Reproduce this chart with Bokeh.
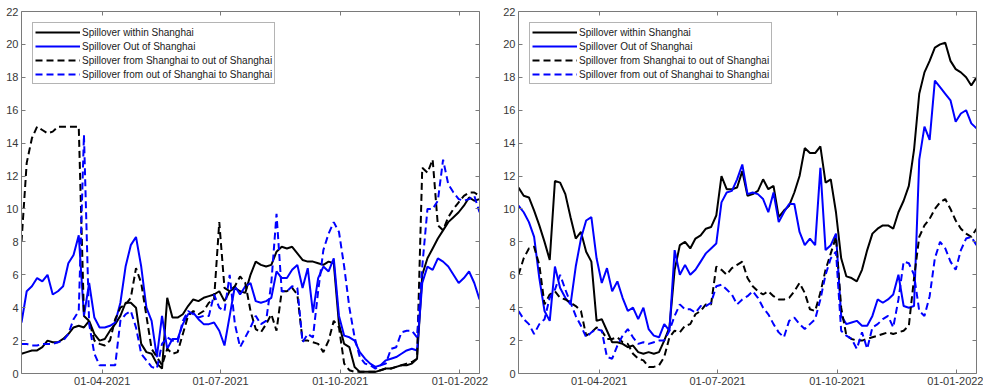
import pandas as pd
from bokeh.plotting import figure
from bokeh.layouts import row
from bokeh.models import (Range1d, FixedTicker, DatetimeTickFormatter, DatetimeAxis,
                          LinearAxis, Legend, LegendItem)
from bokeh.embed import file_html
from bokeh.resources import INLINE

# ---------------- data ----------------
# one reading every 4 days, 29-01-2021 .. 16-01-2022
dates = pd.date_range("2021-01-29", periods=89, freq="4D")
x_tick_dates = ["2021-04-01", "2021-07-01", "2021-10-01", "2022-01-01"]
y_ticks = [0, 2, 4, 6, 8, 10, 12, 14, 16, 18, 20, 22]
series_labels = ["Spillover within Shanghai",
                 "Spillover Out of Shanghai",
                 "Spillover from Shanghai to out of Shanghai",
                 "Spillover from out of Shanghai to Shanghai"]

# left panel
left_within = [1.2, 1.3, 1.4, 1.4, 1.6, 2.0, 1.9, 1.9, 2.1, 2.4,
               2.8, 2.9, 2.8, 3.2, 2.4, 2.0, 2.1, 2.6, 3.0, 3.5,
               4.3, 4.3, 4.0, 1.8, 1.3, 1.2, 0.6, 0.3, 4.6, 3.4,
               3.4, 3.6, 4.1, 4.5, 4.4, 4.6, 4.7, 4.8, 5.0, 4.4,
               5.0, 5.2, 5.0, 4.9, 6.0, 6.8, 6.6, 6.5, 6.6, 7.4,
               7.7, 7.6, 7.7, 7.3, 6.9, 6.8, 6.8, 6.7, 6.6, 6.8,
               6.7, 3.0, 1.8, 1.6, 0.4, 0.1, 0.1, 0.1, 0.1, 0.2,
               0.3, 0.3, 0.4, 0.5, 0.5, 0.6, 0.9, 6.0, 7.0, 7.6,
               8.2, 8.7, 9.2, 9.5, 9.8, 10.2, 10.7, 10.5, 10.6]
left_out = [3.1, 5.0, 5.3, 5.8, 5.6, 6.0, 4.8, 5.0, 5.3, 6.7,
            7.2, 8.4, 3.5, 5.5, 3.4, 2.8, 2.8, 2.9, 3.1, 4.3,
            6.5, 7.8, 8.3, 6.5, 4.0, 3.2, 1.0, 3.5, 1.5, 2.1,
            2.1, 3.0, 3.6, 3.7, 3.3, 3.0, 3.0, 3.1, 2.6, 1.7,
            3.5, 5.3, 4.8, 5.3, 5.5, 4.4, 4.3, 4.4, 4.6, 6.2,
            5.8, 5.8, 6.3, 6.6, 5.2, 6.4, 3.7, 5.8, 6.5, 6.2,
            7.0, 3.5, 2.3, 2.2, 2.0, 1.3, 0.9, 0.6, 0.4, 0.5,
            0.8, 0.9, 1.0, 1.2, 1.4, 1.5, 1.4, 5.5, 6.5, 6.3,
            7.0, 6.8, 6.5, 6.0, 5.5, 5.8, 6.2, 5.5, 4.5]
left_from = [8.0, 12.8, 14.3, 15.0, 14.8, 14.6, 14.7, 15.0, 15.0, 15.0,
             15.0, 15.0, 3.5, 3.2, 2.0, 1.8, 1.7, 2.0, 3.3, 4.0,
             4.2, 4.6, 6.4, 5.5, 3.5, 1.5, 1.0, 0.5, 1.5, 1.2,
             1.3, 2.4, 3.5, 3.8, 3.6, 3.8, 4.3, 4.5, 9.2, 5.2,
             5.0, 5.3, 5.9, 5.5, 3.8, 2.7, 2.5, 3.0, 3.6, 2.6,
             5.0, 5.0, 5.2, 4.8, 2.0, 2.0, 1.9, 1.8, 1.3, 2.0,
             3.2, 2.8, 0.6, 0.2, 0.1, 0.1, 0.1, 0.1, 0.1, 0.2,
             0.3, 0.3, 0.4, 0.5, 0.6, 0.7, 0.9, 12.5, 12.2, 13.0,
             9.0, 8.7, 9.5, 10.0, 10.4, 10.8, 11.0, 11.0, 10.8]
left_to = [1.8, 1.8, 1.7, 1.7, 1.8, 1.8, 1.8, 1.9, 2.0, 2.4,
           3.3, 3.8, 14.5, 3.0, 1.2, 0.5, 0.5, 0.5, 0.5, 3.2,
           3.6, 3.8, 2.8, 1.2, 0.8, 0.4, 0.3, 1.8, 2.2, 2.0,
           1.9, 3.2, 3.8, 3.6, 3.4, 3.5, 3.5, 4.8, 4.0, 3.8,
           6.0, 3.0, 1.6, 2.2, 2.8, 3.5, 3.0, 3.2, 5.5, 9.7,
           5.0, 5.0, 5.3, 5.2, 1.9, 2.4, 2.2, 5.0, 7.5, 8.5,
           9.2, 8.6, 6.5, 4.0, 2.2, 1.0, 0.6, 0.5, 0.3, 0.5,
           0.6, 1.5, 1.6, 2.5, 2.6, 2.6, 2.2, 6.5, 10.0, 10.0,
           10.5, 13.0, 11.5, 11.0, 10.6, 10.5, 10.6, 10.8, 9.8]

# right panel
right_within = [11.3, 10.8, 10.7, 9.9, 9.0, 8.0, 6.9, 11.7, 11.6, 10.9,
                9.5, 8.2, 8.6, 7.4, 6.8, 3.2, 3.3, 2.6, 1.9, 1.9,
                1.8, 1.6, 1.7, 1.3, 1.2, 1.3, 1.2, 1.3, 2.0, 2.8,
                6.3, 7.8, 8.0, 7.6, 8.2, 8.4, 8.8, 8.9, 9.6, 12.0,
                11.2, 11.2, 11.3, 12.3, 10.8, 10.9, 11.1, 11.8, 11.2, 11.4,
                9.5, 9.9, 10.2, 11.0, 12.0, 13.7, 13.4, 13.4, 13.8, 11.6,
                11.8, 9.8, 7.0, 5.9, 5.8, 5.6, 6.3, 7.5, 8.5, 8.8,
                9.0, 9.0, 8.8, 9.8, 10.5, 11.4, 13.6, 17.0, 18.3, 19.0,
                19.8, 20.0, 20.1, 19.0, 18.5, 18.3, 18.0, 17.5, 18.0]
right_out = [10.2, 9.8, 9.2, 8.3, 5.8, 3.8, 3.2, 6.5, 5.2, 4.6,
             4.2, 6.5, 8.2, 9.3, 9.5, 7.0, 5.5, 6.4, 5.0, 5.6,
             4.6, 3.8, 4.0, 3.3, 4.0, 2.7, 2.3, 2.2, 3.0, 2.6,
             7.5, 6.0, 6.6, 6.0, 6.3, 6.8, 7.3, 7.6, 7.9, 10.4,
             11.0, 11.1, 11.8, 12.7, 10.9, 11.0, 10.9, 10.6, 9.8, 11.0,
             9.2, 9.8, 10.3, 10.3, 8.6, 7.8, 8.2, 7.8, 12.5, 7.5,
             7.8, 8.5, 3.5, 3.0, 3.1, 3.2, 2.9, 2.9, 3.5, 4.5,
             4.3, 4.5, 4.8, 6.0, 4.1, 4.0, 4.1, 13.0, 15.0, 14.2,
             17.8, 17.4, 17.0, 16.6, 15.3, 15.8, 16.0, 15.2, 14.9]
right_from = [6.0, 7.0, 7.6, 7.7, 6.6, 4.2, 4.8, 5.0, 4.6, 4.5,
              4.3, 4.1, 3.8, 2.3, 2.5, 2.8, 2.6, 2.1, 2.1, 2.2,
              1.9, 1.8, 1.2, 0.9, 0.8, 0.4, 0.4, 0.5, 1.0, 2.2,
              2.6, 2.5, 2.9, 3.0, 3.6, 3.8, 4.2, 4.2, 6.5, 6.3,
              6.0, 6.4, 6.6, 6.8, 5.8, 5.3, 5.0, 4.8, 5.0, 4.7,
              4.5, 4.5, 4.6, 5.0, 5.5, 4.9, 3.9, 3.8, 4.9, 6.3,
              7.3, 8.3, 4.0, 2.3, 2.1, 2.0, 2.0, 2.1, 2.2, 2.3,
              2.4, 2.5, 2.4, 2.5, 2.6, 2.9, 5.8, 8.3, 9.0, 9.4,
              10.0, 10.4, 10.6, 10.0, 9.3, 8.8, 8.5, 8.3, 8.8]
right_to = [3.8, 3.3, 3.0, 2.4, 3.0, 3.3, 4.6, 5.1, 6.0, 5.1,
            4.3, 3.5, 2.9, 2.2, 2.5, 2.7, 2.6, 1.0, 0.9, 1.7,
            2.3, 2.7, 2.2, 1.8, 1.9, 1.8, 1.9, 2.0, 2.0, 2.6,
            3.5, 4.2, 3.9, 3.9, 3.7, 4.1, 4.1, 4.3, 5.3, 5.4,
            5.1, 4.8, 4.2, 4.5, 4.7, 5.0, 4.6, 4.0, 3.6, 3.0,
            2.5, 2.2, 3.2, 3.4, 3.0, 2.7, 3.0, 3.3, 4.5, 6.0,
            7.0, 7.4, 2.6, 2.3, 2.1, 1.5, 2.5, 1.5, 2.8, 3.0,
            3.3, 3.5, 2.8, 4.5, 6.8, 6.7, 6.0, 3.8, 3.5, 4.7,
            7.0, 8.0, 7.6, 6.8, 6.3, 7.5, 8.2, 8.3, 7.8]

# ---------------- styling ----------------
FONT = "Liberation Sans"
AXC = "#7a7a7a"
TXT = "#383838"
BLUE = "#0000ff"
BLACK = "#000000"
DASH = "7 4"

tick_ms = [pd.Timestamp(d).value / 1e6 for d in x_tick_dates]


def date_fmt():
    f = "%d-%m-%Y"
    return DatetimeTickFormatter(days=f, months=f, years=f, hours=f, hourmin=f)


def style_axis(ax, show_labels, standoff=3):
    ax.axis_line_color = AXC
    ax.axis_line_width = 1
    ax.major_tick_line_color = AXC
    ax.major_tick_line_width = 1
    ax.major_tick_in = 4
    ax.major_tick_out = 0
    ax.minor_tick_in = 0
    ax.minor_tick_out = 0
    ax.major_label_text_font = FONT
    if show_labels:
        ax.major_label_text_color = TXT
        ax.major_label_text_font_size = "11px"
        ax.major_label_standoff = standoff
    else:
        # mirror axis (box ticks only, MATLAB style): no labels drawn
        ax.major_label_text_color = None
        ax.major_label_text_font_size = "1px"
        ax.major_label_standoff = 0


def make_panel(within, out, from_sh, to_sh, width, border_left, border_right):
    p = figure(width=width, height=391, x_axis_type="datetime",
               x_range=Range1d(start=dates[0].to_pydatetime(), end=dates[-1].to_pydatetime()),
               y_range=Range1d(0, 22),
               output_backend="svg", toolbar_location=None,
               min_border_left=border_left, min_border_right=border_right,
               min_border_top=11, min_border_bottom=18)
    p.xgrid.visible = False
    p.ygrid.visible = False
    p.outline_line_color = None
    p.background_fill_color = "white"
    p.border_fill_color = "white"

    xb = p.xaxis[0]
    xb.ticker = FixedTicker(ticks=tick_ms)
    xb.formatter = date_fmt()
    style_axis(xb, True, standoff=3)
    yl = p.yaxis[0]
    yl.ticker = FixedTicker(ticks=y_ticks)
    style_axis(yl, True, standoff=3)

    xt = DatetimeAxis(ticker=FixedTicker(ticks=tick_ms), formatter=date_fmt())
    style_axis(xt, False)
    p.add_layout(xt, "above")
    yr = LinearAxis(ticker=FixedTicker(ticks=y_ticks))
    style_axis(yr, False)
    p.add_layout(yr, "right")

    specs = [(within, BLACK, "solid"), (out, BLUE, "solid"),
             (from_sh, BLACK, DASH), (to_sh, BLUE, DASH)]
    rends = []
    for vals, col, dash in specs:
        r = p.line(dates, vals, line_color=col, line_width=2, line_dash=dash)
        rends.append(r)

    legend = Legend(items=[LegendItem(label=l, renderers=[r]) for l, r in zip(series_labels, rends)],
                    location="top_left", margin=11, padding=2, spacing=0,
                    label_height=14, glyph_height=14, glyph_width=45, label_standoff=2,
                    label_text_font=FONT, label_text_font_size="10px",
                    label_text_color="#1a1a1a",
                    border_line_color="#6a6a6a", border_line_width=1,
                    background_fill_color="white", background_fill_alpha=1)
    p.add_layout(legend)
    return p


p1 = make_panel(left_within, left_out, left_from, left_to, width=500,
                border_left=21, border_right=21)
p2 = make_panel(right_within, right_out, right_from, right_to, width=483,
                border_left=17, border_right=7)

layout = row(p1, p2)

open("out.html", "w").write(file_html(layout, INLINE))
